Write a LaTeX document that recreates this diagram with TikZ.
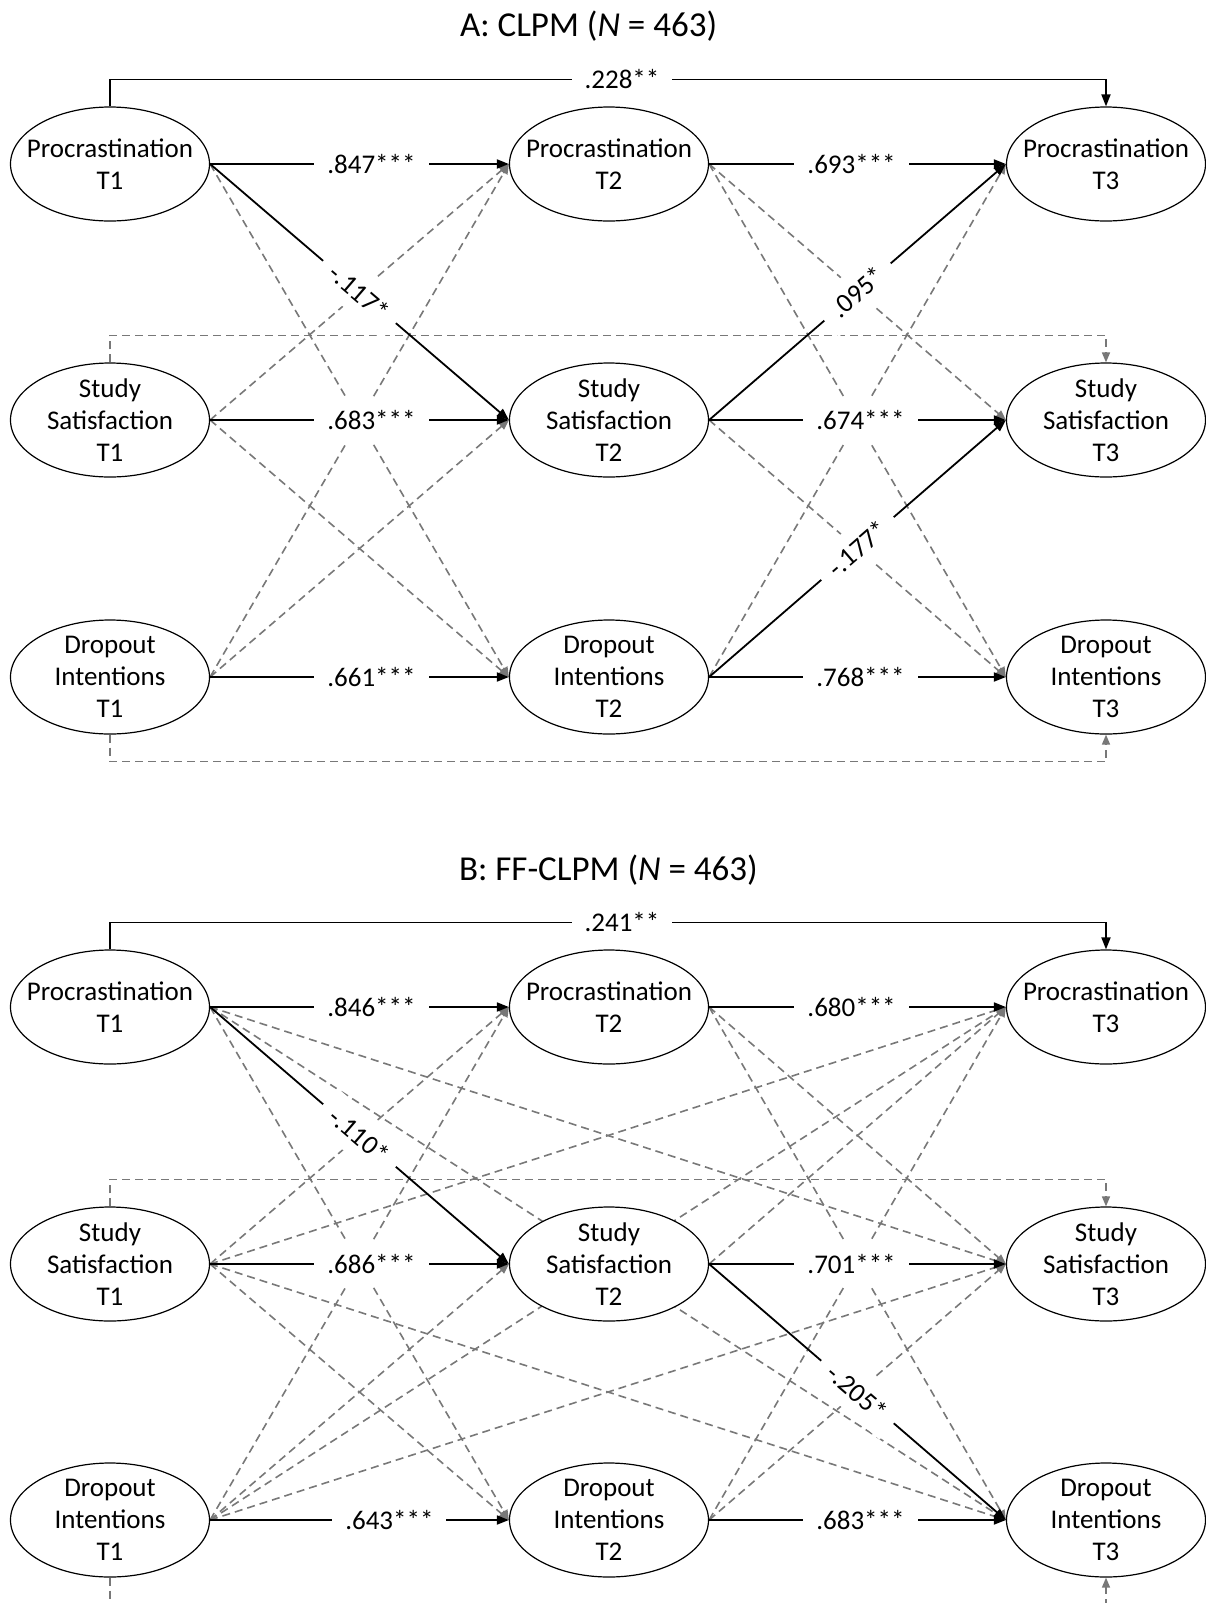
\documentclass[tikz,border=0pt]{standalone}
\usepackage{fontspec}
\setmainfont{Carlito}
\usetikzlibrary{positioning, arrows.meta, shapes.geometric, backgrounds}
\definecolor{cchemin}{gray}{0.47}

\begin{document}
\begin{tikzpicture}[x=0.5pt, y=-0.5pt,
    var/.style={ellipse, draw, line width=0.6pt, fill=white, minimum width=99.5pt, minimum height=57pt, inner sep=0pt},
    vt/.style={align=center, inner sep=0pt, font=\fontsize{13.5}{16}\selectfont},
    sig/.style={-{Triangle[length=6pt,width=4.5pt]}, line width=0.9pt},
    ns/.style={-{Triangle[length=5pt,width=4pt]}, cchemin, line width=0.8pt, dash pattern=on 4pt off 2.5pt},
    coef/.style={fill=white, text=black, inner xsep=6.5pt, inner ysep=6pt, font=\fontsize{13.5}{16}\selectfont},
    titre/.style={anchor=west, font=\fontsize{17.5}{21}\selectfont}]

  \useasboundingbox (0,0) rectangle (1206,1603);

  % --- A: CLPM ---
  \node[titre] (ttlA) at (453,26) {A: CLPM (\textit{N} = 463)};
  \node[var] (ap1) at (110,164) {};
  \node[var] (ap2) at (609,164) {};
  \node[var] (ap3) at (1106,164) {};
  \node[var] (as1) at (110,420) {};
  \node[var] (as2) at (609,420) {};
  \node[var] (as3) at (1106,420) {};
  \node[var] (ad1) at (110,677) {};
  \node[var] (ad2) at (609,677) {};
  \node[var] (ad3) at (1106,677) {};
  \node[vt] at (ap1) {Procrastination\\T1};
  \node[vt] at (ap2) {Procrastination\\T2};
  \node[vt] at (ap3) {Procrastination\\T3};
  \node[vt] at (as1) {Study\\Satisfaction\\T1};
  \node[vt] at (as2) {Study\\Satisfaction\\T2};
  \node[vt] at (as3) {Study\\Satisfaction\\T3};
  \node[vt] at (ad1) {Dropout\\Intentions\\T1};
  \node[vt] at (ad2) {Dropout\\Intentions\\T2};
  \node[vt] at (ad3) {Dropout\\Intentions\\T3};

  % --- B: FF-CLPM ---
  \node[titre] (ttlB) at (452,870) {B: FF-CLPM (\textit{N} = 463)};
  \node[var] (bp1) at (110,1007) {};
  \node[var] (bp2) at (609,1007) {};
  \node[var] (bp3) at (1106,1007) {};
  \node[var] (bs1) at (110,1264) {};
  \node[var] (bs2) at (609,1264) {};
  \node[var] (bs3) at (1106,1264) {};
  \node[var] (bd1) at (110,1520) {};
  \node[var] (bd2) at (609,1520) {};
  \node[var] (bd3) at (1106,1520) {};
  \node[vt] at (bp1) {Procrastination\\T1};
  \node[vt] at (bp2) {Procrastination\\T2};
  \node[vt] at (bp3) {Procrastination\\T3};
  \node[vt] at (bs1) {Study\\Satisfaction\\T1};
  \node[vt] at (bs2) {Study\\Satisfaction\\T2};
  \node[vt] at (bs3) {Study\\Satisfaction\\T3};
  \node[vt] at (bd1) {Dropout\\Intentions\\T1};
  \node[vt] at (bd2) {Dropout\\Intentions\\T2};
  \node[vt] at (bd3) {Dropout\\Intentions\\T3};

  \begin{pgfonlayer}{background}
  % chemins A, non significatifs
  \draw[ns] (ap1.east) -- (ad2.west);
  \draw[ns] (as1.east) -- (ap2.west);
  \draw[ns] (as1.east) -- (ad2.west);
  \draw[ns] (ad1.east) -- (ap2.west);
  \draw[ns] (ad1.east) -- (as2.west);
  \draw[ns] (ap2.east) -- (as3.west);
  \draw[ns] (ap2.east) -- (ad3.west);
  \draw[ns] (as2.east) -- (ad3.west);
  \draw[ns] (ad2.east) -- (ap3.west);
  \draw[ns] (as1.north) -- ++(0,-27) -| (as3.north);
  \draw[ns] (ad1.south) -- ++(0,27) -| (ad3.south);

  % chemins A, significatifs
  \draw[sig] (ap1.north) -- ++(0,-27) -| node[coef, pos=0.257] {.228**} (ap3.north);
  \draw[sig] (ap1.east) -- node[coef, pos=0.54] {.847***} (ap2.west);
  \draw[sig] (as1.east) -- node[coef, pos=0.54] {.683***} (as2.west);
  \draw[sig] (ad1.east) -- node[coef, pos=0.54] {.661***} (ad2.west);
  \draw[sig] (ap2.east) -- node[coef, pos=0.48] {.693***} (ap3.west);
  \draw[sig] (as2.east) -- node[coef, pos=0.51] {.674***} (as3.west);
  \draw[sig] (ad2.east) -- node[coef, pos=0.51] {.768***} (ad3.west);
  \draw[sig] (ap1.east) -- node[coef, sloped] {-.117*} (as2.west);
  \draw[sig] (as2.east) -- node[coef, sloped] {.095*} (ap3.west);
  \draw[sig] (ad2.east) -- node[coef, sloped] {-.177*} (as3.west);

  % chemins B, non significatifs
  \draw[ns] (bp1.east) -- (bd2.west);
  \draw[ns] (bp1.east) -- (bs3.west);
  \draw[ns] (bp1.east) -- (bd3.west);
  \draw[ns] (bs1.east) -- (bp2.west);
  \draw[ns] (bs1.east) -- (bd2.west);
  \draw[ns] (bs1.east) -- (bp3.west);
  \draw[ns] (bs1.east) -- (bd3.west);
  \draw[ns] (bd1.east) -- (bp2.west);
  \draw[ns] (bd1.east) -- (bs2.west);
  \draw[ns] (bd1.east) -- (bp3.west);
  \draw[ns] (bd1.east) -- (bs3.west);
  \draw[ns] (bp2.east) -- (bs3.west);
  \draw[ns] (bp2.east) -- (bd3.west);
  \draw[ns] (bs2.east) -- (bp3.west);
  \draw[ns] (bd2.east) -- (bp3.west);
  \draw[ns] (bd2.east) -- (bs3.west);
  \draw[ns] (bs1.north) -- ++(0,-27) -| (bs3.north);
  \draw[ns] (bd1.south) -- ++(0,82) -| (bd3.south);

  % chemins B, significatifs
  \draw[sig] (bp1.north) -- ++(0,-27) -| node[coef, pos=0.257] {.241**} (bp3.north);
  \draw[sig] (bp1.east) -- node[coef, pos=0.54] {.846***} (bp2.west);
  \draw[sig] (bs1.east) -- node[coef, pos=0.54] {.686***} (bs2.west);
  \draw[sig] (bd1.east) -- node[coef, pos=0.60] {.643***} (bd2.west);
  \draw[sig] (bp2.east) -- node[coef, pos=0.48] {.680***} (bp3.west);
  \draw[sig] (bs2.east) -- node[coef, pos=0.48] {.701***} (bs3.west);
  \draw[sig] (bd2.east) -- node[coef, pos=0.51] {.683***} (bd3.west);
  \draw[sig] (bp1.east) -- node[coef, sloped] {-.110*} (bs2.west);
  \draw[sig] (bs2.east) -- node[coef, sloped] {-.205*} (bd3.west);
  \end{pgfonlayer}
\end{tikzpicture}
\end{document}
